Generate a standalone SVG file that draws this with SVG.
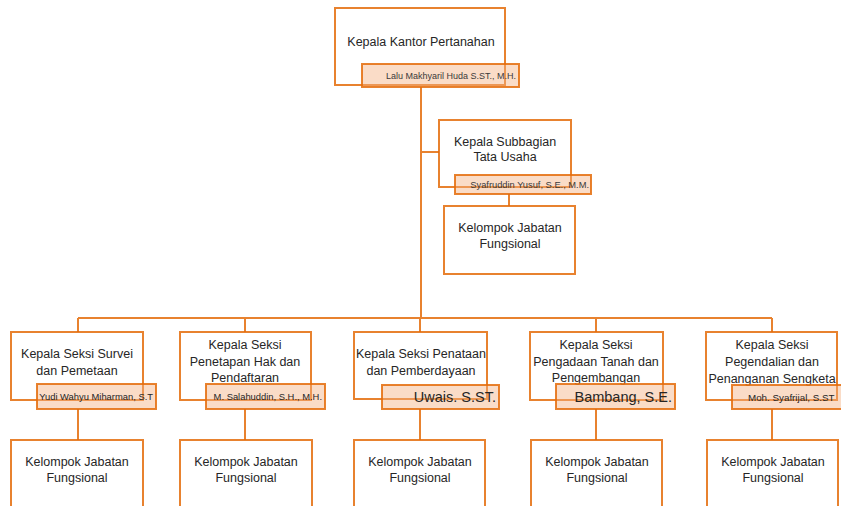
<svg xmlns="http://www.w3.org/2000/svg" width="841" height="506" viewBox="0 0 841 506">
<style>
.box{fill:#fff;stroke:#E46C0A;stroke-width:2;stroke-opacity:0.85}
.lbl{fill:#F4B183;fill-opacity:0.45;stroke:#E46C0A;stroke-width:2;stroke-opacity:0.85}
.con{fill:none;stroke:#E46C0A;stroke-width:2;stroke-opacity:0.85}
text{font-family:"Liberation Sans",Arial,sans-serif;fill:#262626}
.t{font-size:12.5px;text-anchor:middle}
.s{font-size:9px;text-anchor:end;fill:#3a3a3a}
.m{font-size:9.4px;text-anchor:end}
.b{font-size:14.5px;text-anchor:end}
</style>
<rect width="841" height="506" fill="#fff"/>
<g id="connectors">
<path class="con" d="M421,87 V318 M421,152 H439 M509,194 V206 M78,318 H772 M78,318 V332 M245,318 V332 M420,318 V332 M596,318 V332 M772,318 V332 M78,409 V440 M245,409 V440 M420,409 V440 M596,409 V440 M772,409 V440"/>
</g>
<g id="kepala-kantor">
<rect class="box" x="335" y="8" width="170" height="77"/>
<text class="t" x="421" y="46">Kepala Kantor Pertanahan</text>
<rect class="lbl" x="362" y="64" width="157" height="23"/>
<text class="s" x="516" y="79">Lalu Makhyaril Huda S.ST., M.H.</text>
</g>
<g id="subbagian">
<rect class="box" x="439" y="120" width="132" height="67"/>
<text class="t" x="505" y="146">Kepala Subbagian</text>
<text class="t" x="505" y="161">Tata Usaha</text>
<rect class="lbl" x="455" y="175" width="136" height="19"/>
<text class="s" x="589" y="188" style="font-size:9.3px">Syafruddin Yusuf, S.E., M.M.</text>
</g>
<g id="fungsional-tu">
<rect class="box" x="444" y="206" width="131" height="68"/>
<text class="t" x="510" y="232">Kelompok Jabatan</text>
<text class="t" x="510" y="248">Fungsional</text>
</g>
<g id="seksi-survei">
<rect class="box" x="11" y="332" width="132" height="68"/>
<text class="t" x="77" y="358">Kepala Seksi Survei</text>
<text class="t" x="77" y="375">dan Pemetaan</text>
<rect class="lbl" x="37" y="384" width="119" height="25"/>
<text class="m" x="153" y="400">Yudi Wahyu Miharman, S.T</text>
</g>
<g id="seksi-penetapan">
<rect class="box" x="180" y="332" width="131" height="68"/>
<text class="t" x="245" y="349">Kepala Seksi</text>
<text class="t" x="245" y="366">Penetapan Hak dan</text>
<text class="t" x="245" y="382">Pendaftaran</text>
<rect class="lbl" x="206" y="384" width="119" height="25"/>
<text class="m" x="322" y="400">M. Salahuddin, S.H., M.H.</text>
</g>
<g id="seksi-penataan">
<rect class="box" x="354" y="332" width="133" height="67"/>
<text class="t" x="421" y="358">Kepala Seksi Penataan</text>
<text class="t" x="421" y="375">dan Pemberdayaan</text>
<rect class="lbl" x="382" y="385" width="117" height="24"/>
<text class="b" x="496" y="402">Uwais. S.ST.</text>
</g>
<g id="seksi-pengadaan">
<rect class="box" x="530" y="332" width="133" height="68"/>
<text class="t" x="596" y="349">Kepala Seksi</text>
<text class="t" x="596" y="366">Pengadaan Tanah dan</text>
<text class="t" x="596" y="382">Pengembangan</text>
<rect class="lbl" x="556" y="384" width="119" height="25"/>
<text class="b" x="672" y="402">Bambang, S.E.</text>
</g>
<g id="seksi-pengendalian">
<rect class="box" x="706" y="332" width="131" height="68"/>
<text class="t" x="772" y="349">Kepala Seksi</text>
<text class="t" x="772" y="366">Pegendalian dan</text>
<text class="t" x="772" y="383">Penanganan Sengketa</text>
<rect class="lbl" x="732" y="385" width="120" height="24"/>
<text x="748" y="401" style="font-size:9.8px">Moh. Syafrijal, S.ST</text>
</g>
<g id="fungsional-1">
<rect class="box" x="11" y="440" width="132" height="80"/>
<text class="t" x="77" y="466">Kelompok Jabatan</text>
<text class="t" x="77" y="482">Fungsional</text>
</g>
<g id="fungsional-2">
<rect class="box" x="180" y="440" width="132" height="80"/>
<text class="t" x="246" y="466">Kelompok Jabatan</text>
<text class="t" x="246" y="482">Fungsional</text>
</g>
<g id="fungsional-3">
<rect class="box" x="354" y="440" width="131" height="80"/>
<text class="t" x="420" y="466">Kelompok Jabatan</text>
<text class="t" x="420" y="482">Fungsional</text>
</g>
<g id="fungsional-4">
<rect class="box" x="531" y="440" width="131" height="80"/>
<text class="t" x="597" y="466">Kelompok Jabatan</text>
<text class="t" x="597" y="482">Fungsional</text>
</g>
<g id="fungsional-5">
<rect class="box" x="707" y="440" width="131" height="80"/>
<text class="t" x="773" y="466">Kelompok Jabatan</text>
<text class="t" x="773" y="482">Fungsional</text>
</g>
</svg>
